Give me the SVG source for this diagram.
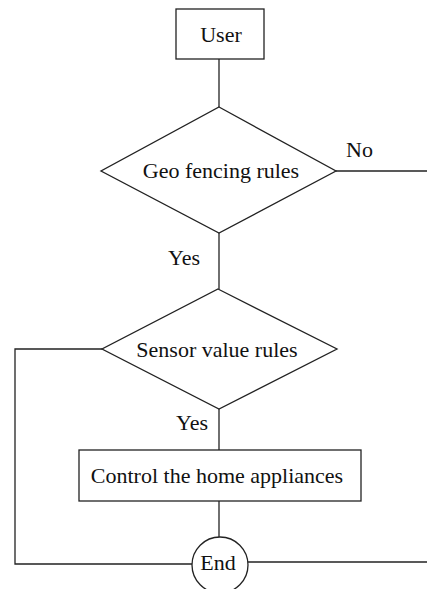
<svg xmlns="http://www.w3.org/2000/svg" width="427" height="589" viewBox="0 0 427 589">
<style>
.s{fill:#fff;stroke:#222;stroke-width:1.3}
.c{fill:none;stroke:#222;stroke-width:1.3}
text{font-family:"Liberation Serif","Times New Roman",serif;font-size:22px;fill:#111}
.m{text-anchor:middle}
</style>
<rect width="427" height="589" fill="#fff"/>
<g id="connectors">
<path class="c" d="M219,59 V107"/>
<path class="c" d="M336,171 H427"/>
<path class="c" d="M219,233 V289"/>
<path class="c" d="M102,349 H15 V564 H192"/>
<path class="c" d="M219,409 V450"/>
<path class="c" d="M219,501 V537"/>
<path class="c" d="M248,562 H427"/>
<text x="346" y="157">No</text>
<text x="168" y="265">Yes</text>
<text x="176" y="430">Yes</text>
</g>
<g id="user">
<rect class="s" x="176" y="9" width="88" height="50"/>
<text class="m" x="221" y="42">User</text>
</g>
<g id="geo">
<polygon class="s" points="219,107 336,171 219,233 101,171"/>
<text class="m" x="221" y="178">Geo fencing rules</text>
</g>
<g id="sensor">
<polygon class="s" points="218,289 337,349 219,409 102,349"/>
<text class="m" x="217" y="357">Sensor value rules</text>
</g>
<g id="control">
<rect class="s" x="79" y="450" width="282" height="51"/>
<text class="m" x="217" y="483">Control the home appliances</text>
</g>
<g id="end">
<circle class="s" cx="220" cy="565" r="28"/>
<text class="m" x="218" y="570">End</text>
</g>
</svg>
